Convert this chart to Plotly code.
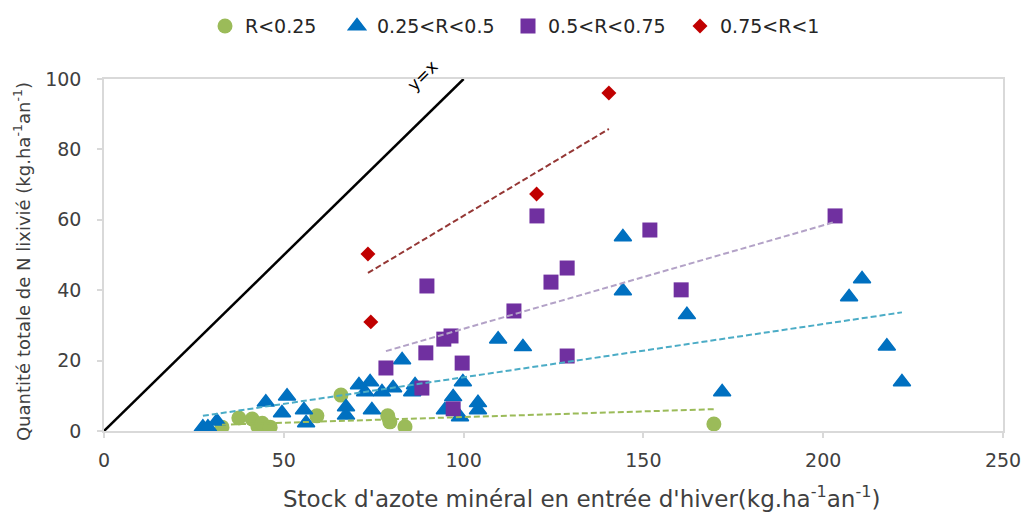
import plotly.graph_objects as go

# --- R < 0.25 ---
low_x = [32.8, 37.5, 41.2, 42.8, 44.0, 46.2, 59.2, 65.9, 78.9, 79.5, 83.7, 169.6]
low_y = [1.1, 3.7, 3.4, 1.3, 2.2, 1.1, 4.3, 10.2, 4.3, 2.6, 1.2, 2.0]

# --- 0.25 < R < 0.5 ---
mid_x = [27.5, 28.9, 31.4, 45.0, 50.9, 49.5, 55.6, 56.2, 67.3, 67.3, 70.9, 74.0,
         72.6, 74.5, 77.3, 80.4, 82.9, 85.7, 86.5, 94.8, 97.1, 99.0, 99.8, 104.0,
         104.0, 109.6, 116.5, 144.3, 144.3, 162.1, 171.9, 207.2, 210.8, 217.7, 221.9]
mid_y = [1.1, 1.1, 2.8, 8.2, 9.9, 5.1, 6.0, 2.3, 6.8, 4.5, 13.1, 13.9,
         11.1, 6.0, 11.1, 12.2, 20.2, 11.1, 13.1, 6.0, 9.7, 4.0, 13.9, 8.0,
         6.0, 26.1, 23.9, 55.1, 39.8, 33.0, 11.1, 38.1, 43.2, 24.1, 13.9]

# --- 0.5 < R < 0.75 ---
high_x = [78.4, 88.4, 89.5, 89.8, 94.5, 96.5, 97.1, 99.6, 114.0, 120.4, 124.3,
          128.8, 128.8, 151.8, 160.5, 203.3]
high_y = [17.9, 12.2, 22.2, 41.2, 26.1, 27.0, 6.3, 19.3, 34.1, 61.1, 42.3,
          46.3, 21.3, 57.1, 40.1, 61.1]

# --- 0.75 < R < 1 ---
top_x = [73.4, 74.2, 120.3, 140.4]
top_y = [50.3, 31.0, 67.3, 96.0]

# linear trendlines (end points) of each class
low_trend_x, low_trend_y = [32.8, 169.6], [1.8, 6.2]
mid_trend_x, mid_trend_y = [27.5, 221.9], [4.3, 33.7]
high_trend_x, high_trend_y = [78.4, 203.3], [22.7, 59.4]
top_trend_x, top_trend_y = [73.4, 140.4], [44.9, 85.8]

# 1:1 reference line
ident_x, ident_y = [0, 100], [0, 100]

series_names = ["R<0.25", "0.25<R<0.5", "0.5<R<0.75", "0.75<R<1"]

FONT = "DejaVu Sans"
TXT = "#404040"

fig = go.Figure()

fig.add_trace(go.Scatter(x=ident_x, y=ident_y, mode="lines",
                         line=dict(color="black", width=2.5), showlegend=False,
                         hoverinfo="skip"))

fig.add_trace(go.Scatter(x=low_x, y=low_y, mode="markers", name=series_names[0],
                         marker=dict(symbol="circle", size=15, color="#9BBB59"),
                         legendwidth=87))
fig.add_trace(go.Scatter(x=mid_x, y=mid_y, mode="markers", name=series_names[1],
                         marker=dict(symbol="triangle-up", size=15, color="#0070C0",
                                     line=dict(color="#0070C0", width=1.5)),
                         legendwidth=126))
fig.add_trace(go.Scatter(x=high_x, y=high_y, mode="markers", name=series_names[2],
                         marker=dict(symbol="square", size=15, color="#7030A0"),
                         legendwidth=127))
fig.add_trace(go.Scatter(x=top_x, y=top_y, mode="markers", name=series_names[3],
                         marker=dict(symbol="diamond", size=11.5, color="#C00000")))

trend_style = [
    (low_trend_x, low_trend_y, "#9BBB59"),
    (mid_trend_x, mid_trend_y, "#4BACC6"),
    (high_trend_x, high_trend_y, "#B3A2C7"),
    (top_trend_x, top_trend_y, "#953735"),
]
for tx, ty, col in trend_style:
    fig.add_trace(go.Scatter(x=tx, y=ty, mode="lines", showlegend=False,
                             line=dict(color=col, width=2, dash="6px,3px"),
                             hoverinfo="skip"))

axis_common = dict(showline=True, linecolor="#D9D9D9", linewidth=1.5, mirror=True,
                   ticks="outside", ticklen=5, tickcolor="#D9D9D9", tickwidth=1.5,
                   showgrid=False, zeroline=False, automargin=False,
                   tickfont=dict(family=FONT, size=19, color=TXT))

fig.update_xaxes(range=[0, 250], dtick=50, tick0=0, ticklabelstandoff=6, **axis_common)
fig.update_yaxes(range=[0, 100], dtick=20, tick0=0, ticklabelstandoff=12, **axis_common)

fig.update_layout(
    width=1025, height=514, autosize=False,
    margin=dict(l=104, r=22, t=79, b=83),
    paper_bgcolor="white", plot_bgcolor="white",
    font=dict(family=FONT, color=TXT),
    showlegend=True,
    legend=dict(orientation="h", xref="container", x=0.2, xanchor="left",
                yref="container", y=0.949, yanchor="middle",
                font=dict(family=FONT, size=19, color="#262626"),
                bgcolor="rgba(0,0,0,0)", itemwidth=30),
    annotations=[
        dict(text="Stock d'azote minéral en entrée d'hiver(kg.ha<sup>-1</sup>an<sup>-1</sup>)",
             xref="paper", yref="paper", x=0.5317, y=-0.1875,
             xanchor="center", yanchor="middle", showarrow=False,
             font=dict(family=FONT, size=23, color=TXT)),
        dict(text="Quantité totale de N lixivié (kg.ha<sup>-1</sup>an<sup>-1</sup>)",
             xref="paper", yref="paper", x=-0.0912, y=0.48, textangle=-90,
             xanchor="center", yanchor="middle", showarrow=False,
             font=dict(family=FONT, size=18, color=TXT)),
        dict(text="y=x", xref="x", yref="y", x=88.4, y=99, yshift=7, textangle=-45,
             showarrow=False, font=dict(family=FONT, size=17, color="black")),
    ],
)

fig.write_html("out.html")
